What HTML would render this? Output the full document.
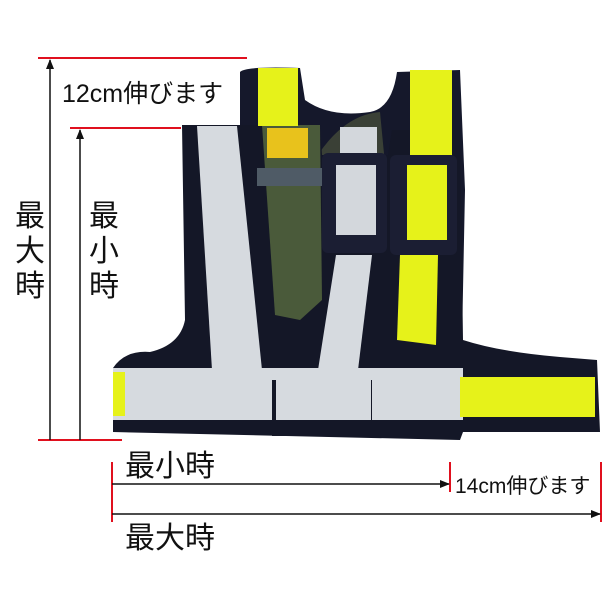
<!DOCTYPE html>
<html><head><meta charset="utf-8"><style>
body{margin:0;background:#fff;width:614px;height:614px;overflow:hidden}
svg{display:block}
text{font-family:"Liberation Sans","Noto Sans CJK JP",sans-serif;fill:#111}
</style></head><body>
<svg width="614" height="614" viewBox="0 0 614 614">
<defs>
<marker id="a" markerWidth="10" markerHeight="10" refX="9" refY="5" orient="auto" markerUnits="userSpaceOnUse"><path d="M0,1 L10,5 L0,9 z" fill="#111"/></marker>
</defs>
<path d="M240,72 Q245,66 300,68 L305,100 Q330,118 370,112 Q392,108 397,72 L460,70 L465,190 L462,340 L240,340 Z" fill="#15182b"/>
<path d="M262,320 Q300,118 380,112 L400,320 Z" fill="#3a4036"/>
<path d="M182,125 L320,125 L322,155 L388,155 L392,130 L460,130 L463,340 Q500,352 560,357 L597,360 L600,432 L463,432 L460,440 L113,432 L113,368 Q125,350 150,352 Q180,345 185,320 Z" fill="#141727"/>
<path d="M262,125 L320,125 L322,300 L300,320 L275,315 Z" fill="#4a5a3a"/>
<rect x="257" y="168" width="70" height="18" fill="#4f5b66"/>
<rect x="267" y="128" width="41" height="30" fill="#e8c21c"/>
<path d="M197,126 L237,126 L262,370 L212,370 Z" fill="#d6dadf"/>
<path d="M340,127 L377,127 L377,156 L340,156 Z" fill="#d3d7dc"/>
<path d="M336,255 L372,255 L358,370 L318,370 Z" fill="#d6dadf"/>
<rect x="322" y="153" width="65" height="100" rx="6" fill="#1b1e33"/>
<rect x="336" y="165" width="40" height="70" fill="#d3d7dc"/>
<rect x="258" y="68" width="40" height="58" fill="#e6f21a"/>
<rect x="410" y="70" width="42" height="95" fill="#e6f21a"/>
<rect x="390" y="155" width="67" height="100" rx="6" fill="#1b1e33"/>
<rect x="407" y="165" width="40" height="75" fill="#e6f21a"/>
<path d="M400,255 L438,255 L436,345 L397,340 Z" fill="#e6f21a"/>
<rect x="113" y="368" width="350" height="52" fill="#d6dadf"/>
<rect x="113" y="372" width="12" height="44" fill="#e6f21a"/>
<rect x="272" y="380" width="100" height="56" fill="#141727"/>
<rect x="276" y="380" width="95" height="40" fill="#d6dadf"/>
<rect x="460" y="377" width="135" height="40" fill="#e6f21a"/>
<g stroke="#e0101e" stroke-width="2">
<line x1="38" y1="58" x2="247" y2="58"/>
<line x1="70" y1="128" x2="181" y2="128"/>
<line x1="38" y1="440" x2="122" y2="440"/>
<line x1="112" y1="462" x2="112" y2="522"/>
<line x1="450" y1="462" x2="450" y2="492"/>
<line x1="601" y1="462" x2="601" y2="522"/>
</g>
<g stroke="#111" stroke-width="1.5">
<line x1="50" y1="440" x2="50" y2="60" marker-end="url(#a)"/>
<line x1="80" y1="440" x2="80" y2="130" marker-end="url(#a)"/>
<line x1="112" y1="484" x2="449" y2="484" marker-end="url(#a)"/>
<line x1="112" y1="514" x2="600" y2="514" marker-end="url(#a)"/>
</g>
<text x="62" y="102" font-size="25">12cm伸びます</text>
<text x="15" y="226" font-size="30">最</text>
<text x="15" y="261" font-size="30">大</text>
<text x="15" y="296" font-size="30">時</text>
<text x="89" y="226" font-size="30">最</text>
<text x="89" y="261" font-size="30">小</text>
<text x="89" y="296" font-size="30">時</text>
<text x="125" y="476" font-size="30">最小時</text>
<text x="455" y="493" font-size="21">14cm伸びます</text>
<text x="125" y="548" font-size="30">最大時</text>
</svg>
</body></html>
